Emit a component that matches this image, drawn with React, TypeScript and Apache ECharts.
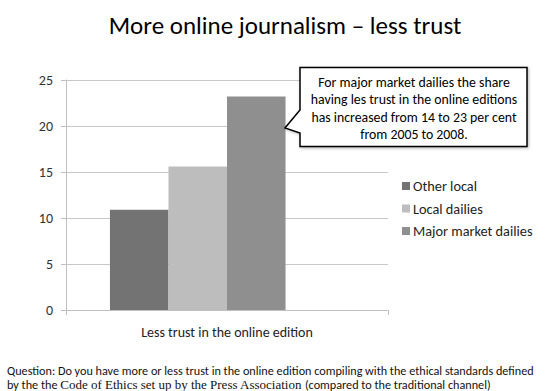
import React, { useEffect, useRef } from "react";
import * as echarts from "echarts";

const categories = ["Less trust in the online edition"];
const seriesNames = ["Other local", "Local dailies", "Major market dailies"];
const otherLocal = [10.9];
const localDailies = [15.6];
const majorMarket = [23.2];
const seriesColors = ["#737373", "#bdbdbd", "#8f8f8f"];
const titleText = "More online journalism \u2013 less trust";
const calloutLines = [
  "For major market dailies the share",
  "having les trust in the online editions",
  "has increased from 14 to 23 per cent",
  "from 2005 to 2008.",
];
const questionLine1 =
  "Question: Do you have more or less trust in the online edition compiling with the ethical standards defined";
const questionLine2a = "by the the ";
const questionLine2b = "Code of Ethics set up by the Press Association";
const questionLine2c = " (compared to the traditional channel)";

const SANS = "Carlito, Lato, 'Open Sans', sans-serif";

export default function App() {
  const ref = useRef<HTMLDivElement>(null);
  useEffect(() => {
    document.body.style.margin = "0";
    if (!ref.current) return;
    const chart = echarts.init(ref.current, null, { renderer: "svg" });
    const values = [otherLocal, localDailies, majorMarket];
    const series: any[] = seriesNames.map((name, i) => ({
      name,
      type: "bar",
      data: values[i],
      itemStyle: { color: seriesColors[i] },
      barGap: "0%",
      barCategoryGap: "27.3%",
    }));
    series.push({
      name: "(blank)",
      type: "bar",
      data: ["-"],
      barGap: "0%",
      barCategoryGap: "27.3%",
    });
    chart.setOption({
      animation: false,
      backgroundColor: "#ffffff",
      textStyle: { fontFamily: SANS },
      grid: { left: 66, right: 164, top: 80, bottom: 81 },
      legend: {
        data: seriesNames,
        orient: "vertical",
        left: 402,
        top: 178.5,
        padding: 0,
        itemWidth: 8,
        itemHeight: 8,
        itemGap: 7.5,
        icon: "rect",
        textStyle: { fontSize: 14.3, color: "#222", fontFamily: SANS, lineHeight: 15, padding: [0, 0, 0, -2] },
      },
      xAxis: {
        type: "category",
        data: categories,
        axisLine: { show: true, lineStyle: { color: "#bfbfbf" } },
        axisTick: { show: true, length: 5, lineStyle: { color: "#bfbfbf" } },
        axisLabel: { color: "#222", fontSize: 14, margin: 15, fontFamily: SANS },
      },
      yAxis: {
        type: "value",
        min: 0,
        max: 25,
        interval: 5,
        axisLine: { show: true, lineStyle: { color: "#bfbfbf" } },
        axisTick: { show: true, length: 5, lineStyle: { color: "#bfbfbf" } },
        axisLabel: { color: "#333", fontSize: 14, margin: 13, fontFamily: SANS },
        splitLine: { show: true, lineStyle: { color: "#c8c8c8" } },
      },
      series,
      graphic: [
        {
          type: "text",
          x: 285,
          y: 25,
          style: {
            text: titleText,
            fontSize: 25,
            fontFamily: SANS,
            fill: "#000",
            align: "center",
            verticalAlign: "middle",
          },
        },
        {
          type: "polygon",
          shape: {
            points: [
              [300, 67.5],
              [527, 67.5],
              [527, 146.5],
              [300, 146.5],
              [300, 133],
              [285, 128],
              [300, 110],
            ],
          },
          style: {
            fill: "#ffffff",
            stroke: "#000",
            lineWidth: 1.5,
            shadowBlur: 3,
            shadowColor: "rgba(0,0,0,0.3)",
            shadowOffsetX: 1,
            shadowOffsetY: 1,
          },
          z: 10,
        },
        {
          type: "text",
          x: 414,
          y: 108.5,
          z: 11,
          style: {
            text: calloutLines.join("\n"),
            fontSize: 13.8,
            lineHeight: 17.2,
            fontFamily: SANS,
            fill: "#000",
            align: "center",
            verticalAlign: "middle",
          },
        },
        {
          type: "text",
          x: 7,
          y: 370.5,
          style: {
            text: questionLine1,
            fontSize: 12.2,
            fontFamily: SANS,
            fill: "#111",
            verticalAlign: "middle",
          },
        },
        {
          type: "text",
          x: 7,
          y: 384,
          style: {
            text:
              "{s|" + questionLine2a + "}{t|" + questionLine2b + "}{s|" + questionLine2c + "}",
            verticalAlign: "middle",
            rich: {
              s: { fontSize: 12.2, fontFamily: SANS, fill: "#111" },
              t: { fontSize: 13, fontFamily: "'Liberation Serif', 'DejaVu Serif', serif", fill: "#111" },
            },
          },
        },
      ],
    });
    return () => chart.dispose();
  }, []);
  return <div ref={ref} style={{ width: 552, height: 391 }} />;
}
